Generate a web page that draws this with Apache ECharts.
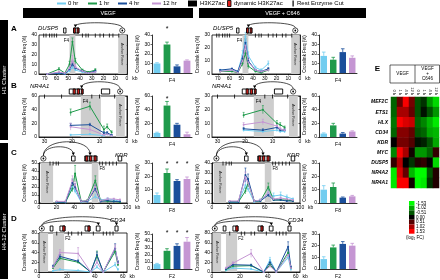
<!DOCTYPE html>
<html>
<head>
<meta charset="utf-8">
<script src="https://cdn.jsdelivr.net/npm/echarts@6/dist/echarts.min.js"></script>
<style>
html, body { margin: 0; padding: 0; background: #fff; }
#main { width: 440px; height: 280px; }
</style>
</head>
<body>
<div id="main"></div>
<script>
var hours = ['0 hr', '1 hr', '4 hr', '12 hr'];

// A - DUSP5, distance from anchor (kb)
var dusp5Kb = [68, 58, 53, 49, 46.5, 44, 38, 33, 27];
var dusp5Vegf = [
	[0, 0.5, 0, 3, 7, 4, 2, 1, 2],
	[0, 5, 1, 10, 33, 13, 4, 2, 4],
	[0, 1, 0, 5, 10, 6, 3, 1, 3],
	[0, 2, 1, 6, 14, 7, 3, 1, 2]
];
var dusp5VegfErr = [
	[0.3, 0.3, 0.3, 1, 2, 1, 0.5, 0.5, 1],
	[0.5, 1.5, 0.5, 3, 4, 3, 1, 0.5, 1.5],
	[0.3, 0.5, 0.3, 2, 3, 2, 1, 0.5, 1],
	[0.3, 0.8, 0.5, 3, 5, 3, 1, 0.5, 1]
];
var dusp5C646 = [
	[3, 3, 2, 15, 29, 14, 5, 3, 8],
	[2, 2, 1, 8, 16, 6, 2, 1, 3],
	[3, 4, 2, 12, 24, 10, 3, 2, 4],
	[2, 3, 1, 10, 22, 9, 3, 2, 3]
];
var dusp5C646Err = [
	[0.5, 0.5, 0.5, 3, 3, 3, 1, 1, 2],
	[0.5, 0.5, 0.5, 2, 2, 2, 0.5, 0.5, 1],
	[0.5, 0.5, 0.5, 2, 3, 2, 0.5, 0.5, 1],
	[0.5, 0.5, 0.5, 2, 3, 2, 0.5, 0.5, 1]
];
var dusp5BarVegf = [10, 30, 7, 13];
var dusp5BarVegfErr = [0.8, 2.5, 1.5, 0.8];
var dusp5BarC646 = [18, 14, 22, 16];
var dusp5BarC646Err = [4, 2.5, 3.5, 2];
var dusp5SigVegf = [0, 1, 0, 0];
var dusp5Cuts = [71, 69, 66, 64, 62, 60, 38, 35, 33, 27, 23, 20, 15, 12, 7];
var dusp5H3 = [[52, 54], [41, 45.5]];
var dusp5Dyn = [[44, 45.5], [41, 42.5]];
var dusp5Anchor = 4;
var dusp5Loops = [44];
var dusp5Primer = [0.3, 7.5];
var dusp5Frag = [44, 49];

// B - NR4A1
var nr4a1Kb = [20.5, 13.5, 8.4, 7.2, 5.6];
var nr4a1Vegf = [
	[3, 4, 2, 4, 2],
	[36, 45, 11, 15, 7],
	[17, 18, 6, 6, 3],
	[15, 11, 3, 4, 2]
];
var nr4a1VegfErr = [
	[1, 1, 1, 1, 1],
	[5, 6, 5, 4, 2],
	[3, 2, 2, 2, 1],
	[5, 4, 2, 2, 1]
];
var nr4a1C646 = [
	[5, 4, 5, 4, 4],
	[16, 20, 10, 9, 7],
	[6, 5, 7, 5, 5],
	[9, 11, 8, 6, 5]
];
var nr4a1C646Err = [
	[1, 1, 1, 1, 1],
	[2, 3, 2, 1.5, 1],
	[1, 1, 1, 1, 1],
	[1.5, 2, 1.5, 1, 1]
];
var nr4a1BarVegf = [6, 46, 18, 4];
var nr4a1BarVegfErr = [1, 6, 2, 3];
var nr4a1BarC646 = [5, 17, 5, 8];
var nr4a1BarC646Err = [1, 3, 1.5, 1];
var nr4a1SigVegf = [0, 1, 0, 0];
var nr4a1Cuts = [30, 23.8, 12.8, 10, 4.5];
var nr4a1H3 = [[16, 21], [6.3, 9.3]];
var nr4a1Dyn = [[18.8, 19.6], [17.3, 18.1], [16, 16.6]];
var nr4a1Anchor = 2.5;
var nr4a1Loops = [16.5];
var nr4a1Primer = [0.8, 4];
var nr4a1Frag = [9.5, 16.8];

// C - KDR
var kdrKb = [20, 30, 38, 41, 48, 55, 64, 70, 78, 85, 92];
var kdrVegf = [
	[1, 1, 20, 15, 1, 2, 8, 4, 5, 4, 2],
	[1, 1, 18, 37, 2, 3, 28, 3, 2, 2, 1],
	[1, 1, 25, 20, 2, 2, 18, 2, 3, 2, 2],
	[2, 2, 28, 22, 2, 3, 20, 3, 5, 5, 4]
];
var kdrVegfErr = [
	[0.5, 0.5, 5, 3, 0.5, 1, 3, 1, 1.5, 1, 0.5],
	[0.5, 0.5, 4, 10, 0.5, 1, 6, 1, 1, 0.5, 0.5],
	[0.5, 0.5, 5, 4, 0.5, 1, 4, 1, 1, 0.5, 0.5],
	[0.5, 0.5, 6, 5, 0.5, 1, 4, 1, 1.5, 1, 1]
];
var kdrC646 = [
	[1, 1, 18, 14, 1, 3, 10, 7, 8, 6, 4],
	[1, 1, 12, 20, 2, 2, 16, 3, 3, 3, 2],
	[1, 1, 28, 24, 2, 2, 8, 3, 3, 2, 2],
	[2, 2, 26, 20, 2, 3, 10, 4, 5, 4, 3]
];
var kdrC646Err = [
	[0.5, 0.5, 4, 3, 0.5, 1, 4, 3, 3, 2, 1],
	[0.5, 0.5, 3, 4, 0.5, 1, 4, 1, 1, 1, 0.5],
	[0.5, 0.5, 7, 5, 0.5, 1, 2, 1, 1, 0.5, 0.5],
	[0.5, 0.5, 5, 4, 0.5, 1, 2, 1, 1, 1, 1]
];
var kdrBarVegf = [6, 22.5, 16.5, 18];
var kdrBarVegfErr = [1.5, 3, 1, 1.5];
var kdrBarC646 = [10, 12, 4, 5];
var kdrBarC646Err = [3, 3, 0.5, 0.7];
var kdrSigVegf = [0, 1, 1, 1];
var kdrCuts = [12.5, 16, 19.5, 22, 69, 72, 76, 80, 84, 88];
var kdrH3 = [[37, 41], [52, 66], [90, 94]];
var kdrDyn = [[53, 55.5], [57.5, 60], [62.5, 65]];
var kdrAnchor = 5;
var kdrLoops = [39, 58];
var kdrPrimer = [2, 16];
var kdrFrag = [60, 67.5];

// D - CD34
var cd34Kb = [10, 15, 28, 37, 41.5, 46, 54.5, 56.5];
var cd34Vegf = [
	[2, 5, 3, 0, 10, 0, 15, 5],
	[8, 28, 20, 0, 33, 0, 42, 15],
	[12, 32, 22, 0, 35, 0, 48, 20],
	[10, 40, 38, 0, 20, 0, 50, 18]
];
var cd34VegfErr = [
	[1, 2, 1, 0, 3, 0, 4, 2],
	[2, 4, 3, 0, 10, 0, 6, 3],
	[2, 4, 3, 0, 6, 0, 10, 3],
	[2, 6, 12, 0, 4, 0, 6, 3]
];
var cd34C646 = [
	[3, 8, 6, 0, 25, 0, 30, 5],
	[5, 12, 13, 0, 15, 0, 40, 8],
	[6, 15, 14, 0, 20, 0, 52, 10],
	[8, 18, 38, 0, 12, 0, 35, 8]
];
var cd34C646Err = [
	[1, 2, 2, 0, 5, 0, 5, 2],
	[1, 2, 2, 0, 4, 0, 6, 2],
	[1, 3, 2, 0, 4, 0, 10, 2],
	[2, 3, 8, 0, 3, 0, 6, 2]
];
var cd34BarVegf = [7, 26, 33, 39];
var cd34BarVegfErr = [1, 3, 3, 6];
var cd34BarC646 = [8.5, 18.5, 21.5, 20];
var cd34BarC646Err = [2, 2, 2, 2];
var cd34SigVegf = [0, 1, 1, 1];
var cd34Cuts = [12.7, 21, 23.4, 28, 30.5, 38.9, 46, 48.4, 50.8, 53];
var cd34H3 = [[8, 10], [15, 18.6], [33, 36.5], [41, 43.7], [54.4, 56.6]];
var cd34Dyn = [[17, 18.6], [35, 36.5]];
var cd34Anchor = 2;
var cd34Loops = [42.5, 55.5];
var cd34Primer = [0.3, 6.5];
var cd34Frag = [10, 18];

// E - heatmap (log2 FC)
var heatGenes = ['MEF2C', 'ETS1', 'HLX', 'CD34', 'KDR', 'MYC', 'DUSP5', 'NR4A2', 'NR4A1'];
var heatCols = ['0 h', '1 h', '4 h', '12 h'];
var heatGroups = ['VEGF', 'VEGF + C646'];
var heatVegf = [
	[-0.6, 0.6, 1.5, 0.7],
	[-0.6, 1.0, 1.0, 0.6],
	[-0.7, 1.5, 1.3, 1.2],
	[-0.6, 0.8, 0.8, 0.6],
	[0.0, 0.7, 0.7, 0.5],
	[-0.8, 1.5, 1.0, 0.1],
	[0.3, 1.1, 0.0, -0.3],
	[-1.4, 1.3, 0.6, -1.1],
	[-1.4, 1.5, 1.5, 0.1]
];
var heatC646 = [
	[-0.5, -0.3, -0.9, -1.3],
	[-0.5, -0.1, -0.5, -0.9],
	[-0.6, -0.8, -1.1, -1.4],
	[-0.5, -0.6, -1.0, -1.1],
	[-0.1, -0.2, -0.5, -1.0],
	[-0.9, -0.9, -0.6, 0.3],
	[0.2, 0.3, 0.0, -1.3],
	[-1.5, -1.5, -0.5, 0.2],
	[-1.5, -1.4, -0.3, 0.2]
];
var scaleTicks = [-1.53, -1.02, -0.51, 0.00, 0.51, 1.02, 1.53];

var FONT = 'Liberation Sans, Arial, Helvetica, sans-serif';
var colors = ['#72cdf0', '#1f9a4b', '#1b4f9b', '#c596d3'];
var chart = echarts.init(document.getElementById('main'));

var grid = [], xAxis = [], yAxis = [], series = [], graphics = [];

function track(cuts, h3, dyn, anchor, loops, rises) {
	var d = [];
	cuts.forEach(function(k) { d.push([k, k, 0, 0]); });
	h3.forEach(function(r) { d.push([r[0], r[1], 1, 0]); });
	dyn.forEach(function(r) { d.push([r[0], r[1], 2, 0]); });
	loops.forEach(function(k, i) { d.push([anchor, k, 4, rises[i]]); });
	d.push([anchor, anchor, 3, 0]);
	return d;
}

function errRender(params, api) {
	var x = api.value(0), y = api.value(1), e = api.value(2);
	if (!e) return null;
	var lo = api.coord([x, Math.max(0, y - e)]), hi = api.coord([x, y + e]);
	var c = api.visual('color');
	return {type: 'group', children: [
		{type: 'line', shape: {x1: lo[0], y1: lo[1], x2: hi[0], y2: hi[1]}, style: {stroke: c, lineWidth: 0.6}},
		{type: 'line', shape: {x1: hi[0] - 1, y1: hi[1], x2: hi[0] + 1, y2: hi[1]}, style: {stroke: c, lineWidth: 0.6}}
	]};
}

function regionRender(yMax, labels) {
	return function(params, api) {
		var a = api.coord([api.value(0), yMax]), b = api.coord([api.value(1), 0]);
		var x0 = Math.min(a[0], b[0]), x1 = Math.max(a[0], b[0]);
		var kind = api.value(2);
		var kids = [{type: 'rect', shape: {x: x0, y: a[1], width: x1 - x0, height: b[1] - a[1]}, style: {fill: '#cdcdcd'}}];
		if (kind === 0) {
			kids.push({type: 'text', x: (x0 + x1) / 2, y: a[1] + 8, rotation: -Math.PI / 2,
				style: {text: 'Anchor Primer', fontSize: 3.5, fontStyle: 'italic', fontFamily: FONT, fill: '#222', align: 'left', verticalAlign: 'middle'}});
		} else {
			var lx = kind === 1 ? x1 + 1 : (kind === 2 ? x0 - 0.5 : x0 + 2);
			kids.push({type: 'text', x: lx, y: a[1] + 3,
				style: {text: labels[params.dataIndex], fontSize: 4.5, fontFamily: FONT, fill: '#000', align: kind === 2 ? 'right' : 'left', verticalAlign: 'top'}});
		}
		return {type: 'group', children: kids};
	};
}

function trackRender(yMax) {
	return function(params, api) {
		var kind = api.value(2);
		var a = api.coord([api.value(0), yMax]), b = api.coord([api.value(1), yMax]);
		var T = a[1];
		if (kind === 0) {
			return {type: 'line', shape: {x1: a[0], y1: T - 1.5, x2: a[0], y2: T + 2.5}, style: {stroke: '#000', lineWidth: 0.8}};
		}
		if (kind === 1 || kind === 2) {
			var bx = Math.min(a[0], b[0]), w = Math.max(Math.abs(b[0] - a[0]), 1.5);
			return {type: 'rect', shape: {x: bx, y: T - 7, width: w, height: 5},
				style: {fill: kind === 1 ? '#fff' : '#e0201b', stroke: '#000', lineWidth: 0.9}};
		}
		if (kind === 3) {
			return {type: 'group', children: [
				{type: 'circle', shape: {cx: a[0], cy: T - 4.5, r: 2.6}, style: {fill: '#fff', stroke: '#000', lineWidth: 0.7}},
				{type: 'circle', shape: {cx: a[0], cy: T - 4.5, r: 0.9}, style: {fill: '#000'}}
			]};
		}
		var rise = api.value(3);
		var y0 = T - 7.2, top = T - rise;
		var cp = y0 + (top - y0) / 0.75;
		return {type: 'group', children: [
			{type: 'bezierCurve', shape: {x1: a[0], y1: y0, cpx1: a[0], cpy1: cp, cpx2: b[0], cpy2: cp, x2: b[0], y2: T - 9}, style: {stroke: '#000', lineWidth: 0.7, fill: 'none'}},
			{type: 'polygon', shape: {points: [[b[0], T - 7.5], [b[0] - 1.6, T - 10.5], [b[0] + 1.6, T - 10.5]]}, style: {fill: '#000'}}
		]};
	};
}

function barErrRender(params, api) {
	var i = api.value(0), v = api.value(1), e = api.value(2);
	var p0 = api.coord([i, v]), p1 = api.coord([i, v + e]);
	var c = api.visual('color');
	var kids = [
		{type: 'line', shape: {x1: p0[0], y1: p0[1], x2: p1[0], y2: p1[1]}, style: {stroke: c, lineWidth: 0.8}},
		{type: 'line', shape: {x1: p1[0] - 1.8, y1: p1[1], x2: p1[0] + 1.8, y2: p1[1]}, style: {stroke: c, lineWidth: 0.8}}
	];
	if (api.value(3) === 1) {
		var s = api.coord([i, api.value(4)]);
		kids.push({type: 'text', x: s[0], y: s[1], style: {text: '*', fontSize: 7, fontFamily: FONT, fill: '#000', align: 'center', verticalAlign: 'middle'}});
	}
	return {type: 'group', children: kids};
}

function addLinePanel(p) {
	var gi = grid.length;
	grid.push({left: p.box[0], top: p.box[1], width: p.box[2], height: p.box[3], show: true, borderColor: '#000', borderWidth: 0.8, containLabel: false});
	xAxis.push({
		gridIndex: gi, type: 'value', min: 0, max: p.kbMax, interval: p.kbStep, inverse: p.inverse,
		name: 'kb', nameLocation: p.inverse ? 'start' : 'end', nameGap: 2,
		nameTextStyle: {fontSize: 5, fontFamily: FONT, color: '#000', verticalAlign: 'top', padding: [2.5, 0, 0, 0]},
		axisLine: {onZero: false, lineStyle: {color: '#000', width: 0.8}},
		axisTick: {length: 1.5, lineStyle: {color: '#000', width: 0.6}},
		axisLabel: {fontSize: 5, margin: 2.5, color: '#000', fontFamily: FONT, showMaxLabel: p.showMax},
		splitLine: {show: false}
	});
	yAxis.push({
		gridIndex: gi, type: 'value', min: 0, max: p.yMax, interval: p.yStep,
		name: 'Crosslink Freq (%)', nameLocation: 'middle', nameGap: 10,
		nameTextStyle: {fontSize: 4.5, fontFamily: FONT, color: '#000'},
		axisLine: {show: true, lineStyle: {color: '#000', width: 0.8}},
		axisTick: {show: true, length: 1.5, lineStyle: {color: '#000', width: 0.6}},
		axisLabel: {fontSize: 5, margin: 2, color: '#000', fontFamily: FONT},
		splitLine: {show: false}
	});
	series.push({
		type: 'custom', xAxisIndex: gi, yAxisIndex: gi, z: 1, silent: true,
		data: [[p.primer[0], p.primer[1], 0], [p.frag[0], p.frag[1], p.fragPos]],
		renderItem: regionRender(p.yMax, ['', p.fragName])
	});
	[0, 1, 2, 3].forEach(function(s) {
		series.push({
			type: 'line', xAxisIndex: gi, yAxisIndex: gi, z: 3, name: hours[s],
			data: p.kb.map(function(k, i) { return [k, p.freq[s][i]]; }),
			symbol: 'circle', symbolSize: 2, lineStyle: {width: 1, color: colors[s]}, itemStyle: {color: colors[s]}
		});
		series.push({
			type: 'custom', xAxisIndex: gi, yAxisIndex: gi, z: 3, itemStyle: {color: colors[s]},
			data: p.kb.map(function(k, i) { return [k, p.freq[s][i], p.err[s][i]]; }),
			renderItem: errRender
		});
	});
	series.push({
		type: 'custom', xAxisIndex: gi, yAxisIndex: gi, z: 5, clip: false, silent: true,
		data: p.track, renderItem: trackRender(p.yMax)
	});
}

function addBarPanel(p) {
	var gi = grid.length;
	grid.push({left: p.box[0], top: p.box[1], width: p.box[2], height: p.box[3]});
	xAxis.push({
		gridIndex: gi, type: 'category', data: hours, name: p.fragName, nameLocation: 'middle', nameGap: 5,
		nameTextStyle: {fontSize: 5, fontFamily: FONT, color: '#000'},
		axisLine: {lineStyle: {color: '#000', width: 0.8}}, axisTick: {show: false}, axisLabel: {show: false}
	});
	yAxis.push({
		gridIndex: gi, type: 'value', min: 0, max: p.yMax, interval: p.yStep,
		name: 'Crosslink Freq (%)', nameLocation: 'middle', nameGap: 10,
		nameTextStyle: {fontSize: 4.5, fontFamily: FONT, color: '#000'},
		axisLine: {show: true, lineStyle: {color: '#000', width: 0.8}},
		axisTick: {show: true, length: 1.5, lineStyle: {color: '#000', width: 0.6}},
		axisLabel: {fontSize: 5, margin: 2, color: '#000', fontFamily: FONT},
		splitLine: {show: false}
	});
	series.push({
		type: 'bar', xAxisIndex: gi, yAxisIndex: gi, barWidth: '68%',
		data: p.values.map(function(v, i) { return {value: v, itemStyle: {color: colors[i]}}; })
	});
	series.push({
		type: 'custom', xAxisIndex: gi, yAxisIndex: gi, z: 4, clip: false,
		data: p.values.map(function(v, i) {
			return {value: [i, v, p.err[i], p.sig ? p.sig[i] : 0, p.starY], itemStyle: {color: colors[i]}};
		}),
		renderItem: barErrRender
	});
}

// row A
addLinePanel({box: [39, 35, 88, 39], kbMax: 75, kbStep: 10, inverse: true, showMax: false, yMax: 40, yStep: 10,
	kb: dusp5Kb, freq: dusp5Vegf, err: dusp5VegfErr, primer: dusp5Primer, frag: dusp5Frag, fragName: 'F4', fragPos: 2,
	track: track(dusp5Cuts, dusp5H3, dusp5Dyn, dusp5Anchor, dusp5Loops, [12])});
addLinePanel({box: [212, 35, 88, 39], kbMax: 75, kbStep: 10, inverse: true, showMax: false, yMax: 30, yStep: 10,
	kb: dusp5Kb, freq: dusp5C646, err: dusp5C646Err, primer: dusp5Primer, frag: dusp5Frag, fragName: 'F4', fragPos: 2,
	track: track(dusp5Cuts, dusp5H3, dusp5Dyn, dusp5Anchor, dusp5Loops, [12])});
addBarPanel({box: [152, 35, 40, 38], yMax: 40, yStep: 10, values: dusp5BarVegf, err: dusp5BarVegfErr, sig: dusp5SigVegf, starY: 46, fragName: 'F4'});
addBarPanel({box: [319, 35, 38, 38], yMax: 40, yStep: 10, values: dusp5BarC646, err: dusp5BarC646Err, fragName: 'F4'});

// row B
addLinePanel({box: [39, 96, 88, 41], kbMax: 32, kbStep: 10, inverse: true, showMax: false, yMax: 60, yStep: 20,
	kb: nr4a1Kb, freq: nr4a1Vegf, err: nr4a1VegfErr, primer: nr4a1Primer, frag: nr4a1Frag, fragName: 'F4', fragPos: 3,
	track: track(nr4a1Cuts, nr4a1H3, nr4a1Dyn, nr4a1Anchor, nr4a1Loops, [14])});
addLinePanel({box: [212, 96, 88, 41], kbMax: 32, kbStep: 10, inverse: true, showMax: false, yMax: 30, yStep: 10,
	kb: nr4a1Kb, freq: nr4a1C646, err: nr4a1C646Err, primer: nr4a1Primer, frag: nr4a1Frag, fragName: 'F4', fragPos: 3,
	track: track(nr4a1Cuts, nr4a1H3, nr4a1Dyn, nr4a1Anchor, nr4a1Loops, [14])});
addBarPanel({box: [152, 96, 40, 41], yMax: 60, yStep: 20, values: nr4a1BarVegf, err: nr4a1BarVegfErr, sig: nr4a1SigVegf, starY: 55, fragName: 'F4'});
addBarPanel({box: [319, 96, 38, 41], yMax: 60, yStep: 20, values: nr4a1BarC646, err: nr4a1BarC646Err, fragName: 'F4'});

// row C
addLinePanel({box: [39, 163, 88, 40], kbMax: 100, kbStep: 20, inverse: false, showMax: true, yMax: 50, yStep: 10,
	kb: kdrKb, freq: kdrVegf, err: kdrVegfErr, primer: kdrPrimer, frag: kdrFrag, fragName: 'F8', fragPos: 1,
	track: track(kdrCuts, kdrH3, kdrDyn, kdrAnchor, kdrLoops, [16, 21])});
addLinePanel({box: [212, 163, 88, 40], kbMax: 100, kbStep: 20, inverse: false, showMax: true, yMax: 40, yStep: 10,
	kb: kdrKb, freq: kdrC646, err: kdrC646Err, primer: kdrPrimer, frag: kdrFrag, fragName: 'F8', fragPos: 1,
	track: track(kdrCuts, kdrH3, kdrDyn, kdrAnchor, kdrLoops, [16, 21])});
addBarPanel({box: [152, 163, 40, 40], yMax: 30, yStep: 10, values: kdrBarVegf, err: kdrBarVegfErr, sig: kdrSigVegf, starY: 29, fragName: 'F8'});
addBarPanel({box: [319, 163, 38, 40], yMax: 30, yStep: 10, values: kdrBarC646, err: kdrBarC646Err, fragName: 'F8'});

// row D
addLinePanel({box: [39, 233, 88, 39], kbMax: 63, kbStep: 20, inverse: false, showMax: false, yMax: 80, yStep: 20,
	kb: cd34Kb, freq: cd34Vegf, err: cd34VegfErr, primer: cd34Primer, frag: cd34Frag, fragName: 'F2', fragPos: 1,
	track: track(cd34Cuts, cd34H3, cd34Dyn, cd34Anchor, cd34Loops, [12, 16])});
addLinePanel({box: [212, 233, 88, 39], kbMax: 63, kbStep: 20, inverse: false, showMax: false, yMax: 80, yStep: 20,
	kb: cd34Kb, freq: cd34C646, err: cd34C646Err, primer: cd34Primer, frag: cd34Frag, fragName: 'F2', fragPos: 1,
	track: track(cd34Cuts, cd34H3, cd34Dyn, cd34Anchor, cd34Loops, [12, 16])});
addBarPanel({box: [152, 234, 40, 38], yMax: 50, yStep: 10, values: cd34BarVegf, err: cd34BarVegfErr, sig: cd34SigVegf, starY: 51, fragName: 'F2'});
addBarPanel({box: [319, 234, 38, 38], yMax: 30, yStep: 10, values: cd34BarC646, err: cd34BarC646Err, fragName: 'F2'});

// E heatmap
var hi = grid.length;
var heatAxis = [];
heatGroups.forEach(function(g) { heatCols.forEach(function(c) { heatAxis.push(g + ' ' + c); }); });
var heatData = [];
heatGenes.forEach(function(g, r) {
	heatVegf[r].forEach(function(v, c) { heatData.push([c, r, v]); });
	heatC646[r].forEach(function(v, c) { heatData.push([c + 4, r, v]); });
});
grid.push({left: 391, top: 97, width: 48, height: 91});
xAxis.push({gridIndex: hi, type: 'category', position: 'top', data: heatAxis,
	axisLine: {show: false}, axisTick: {show: false}, splitLine: {show: false},
	axisLabel: {fontSize: 4, rotate: 90, margin: 2, interval: 0, color: '#000', fontFamily: FONT,
		formatter: function(v, i) { return heatCols[i % 4]; }}});
yAxis.push({gridIndex: hi, type: 'category', inverse: true, data: heatGenes,
	axisLine: {show: false}, axisTick: {show: false}, splitLine: {show: false},
	axisLabel: {fontSize: 5, fontStyle: 'italic', fontWeight: 'bold', margin: 3, interval: 0, color: '#000', fontFamily: FONT}});
var heatIndex = series.length;
series.push({type: 'heatmap', xAxisIndex: hi, yAxisIndex: hi, data: heatData, itemStyle: {borderWidth: 0}});

function heatColor(v) {
	var t = (v + 1.53) / 3.06;
	if (t < 0.5) return 'rgb(0,' + Math.round(255 * (1 - 2 * t)) + ',0)';
	return 'rgb(' + Math.round(255 * (2 * t - 1)) + ',0,0)';
}

// decorations
function gText(x, y, text, style) {
	var st = {text: text, fontFamily: FONT, fontSize: 6, fill: '#000', align: 'left', verticalAlign: 'middle'};
	for (var k in style) st[k] = style[k];
	graphics.push({type: 'text', x: x, y: y, rotation: st.rot || 0, style: st, silent: true});
}
function gRect(x, y, w, h, style) {
	var st = {fill: '#000'};
	for (var k in style) st[k] = style[k];
	graphics.push({type: 'rect', shape: {x: x, y: y, width: w, height: h}, style: st, silent: true});
}
function gLine(x1, y1, x2, y2, c, w) {
	graphics.push({type: 'line', shape: {x1: x1, y1: y1, x2: x2, y2: y2}, style: {stroke: c, lineWidth: w}, silent: true});
}

// legend
var legendX = [57, 88, 118, 152];
hours.forEach(function(h, i) {
	gLine(legendX[i], 3.5, legendX[i] + 9, 3.5, colors[i], 2);
	gText(legendX[i] + 11, 3.5, h);
});
gRect(188, 0.5, 9, 6);
gText(200, 3.5, 'H3K27ac');
gRect(227.5, 0.5, 3.5, 6, {fill: '#e0201b', stroke: '#000', lineWidth: 0.8});
gText(234, 3.5, 'dynamic H3K27ac');
gRect(292.5, 0.5, 1.2, 6);
gText(297, 3.5, 'Rest Enzyme Cut');

// treatment headers
gRect(23, 8, 170, 10);
gText(108, 13, 'VEGF', {fill: '#fff', fontSize: 5.5, align: 'center'});
gRect(199, 8, 167, 10);
gText(282.5, 13, 'VEGF + C646', {fill: '#fff', fontSize: 5.5, align: 'center'});

// cluster bars
gRect(0, 20, 8, 120);
graphics.push({type: 'text', x: 4.5, y: 80, rotation: Math.PI / 2, silent: true,
	style: {text: 'H1 Cluster', fontFamily: FONT, fontSize: 6, fill: '#fff', align: 'center', verticalAlign: 'middle'}});
gRect(0, 143, 8, 136);
graphics.push({type: 'text', x: 4.5, y: 232, rotation: Math.PI / 2, silent: true,
	style: {text: 'H4-12 Cluster', fontFamily: FONT, fontSize: 6, fill: '#fff', align: 'center', verticalAlign: 'middle'}});

// panel letters
[['A', 14, 29], ['B', 14, 85.5], ['C', 14, 152.5], ['D', 14, 219], ['E', 377.5, 69]].forEach(function(l) {
	gText(l[1], l[2], l[0], {fontSize: 8, fontWeight: 'bold', align: 'center'});
});

// gene names
[['DUSP5', 38, 28], ['DUSP5', 213, 28], ['NR4A1', 30, 86.5], ['NR4A1', 212, 86.5],
	['KDR', 115, 155], ['KDR', 287, 155], ['CD34', 110, 220], ['CD34', 288, 220]].forEach(function(g) {
	gText(g[1], g[2], g[0], {fontSize: 6, fontStyle: 'italic'});
});

// heatmap header
graphics.push({type: 'rect', shape: {x: 390, y: 65, width: 49.5, height: 18}, style: {fill: 'none', stroke: '#000', lineWidth: 0.6}, silent: true});
gLine(415, 65, 415, 83, '#000', 0.6);
gText(402.5, 74, heatGroups[0], {fontSize: 4.5, align: 'center'});
gText(427.5, 68.5, 'VEGF', {fontSize: 4.5, align: 'center'});
gText(427.5, 73.5, '+', {fontSize: 4.5, align: 'center'});
gText(427.5, 78.5, 'C646', {fontSize: 4.5, align: 'center'});
gLine(415, 97, 415, 188, '#fff', 0.8);

// colour scale
scaleTicks.forEach(function(v, i) {
	gRect(409, 201 + i * 4.67, 5.5, 4.67, {fill: heatColor(v)});
	gText(416, 203.3 + i * 4.67, v.toFixed(2), {fontSize: 4.5});
});
gText(415, 238, '(log\u2082 FC)', {fontSize: 4.5, align: 'center'});

chart.setOption({
	animation: false,
	textStyle: {fontFamily: FONT, color: '#000'},
	grid: grid,
	xAxis: xAxis,
	yAxis: yAxis,
	series: series,
	visualMap: [{type: 'continuous', show: false, seriesIndex: heatIndex, min: -1.53, max: 1.53,
		inRange: {color: ['#00ff00', '#000000', '#ff0000']}}],
	graphic: graphics
});
</script>
</body>
</html>
